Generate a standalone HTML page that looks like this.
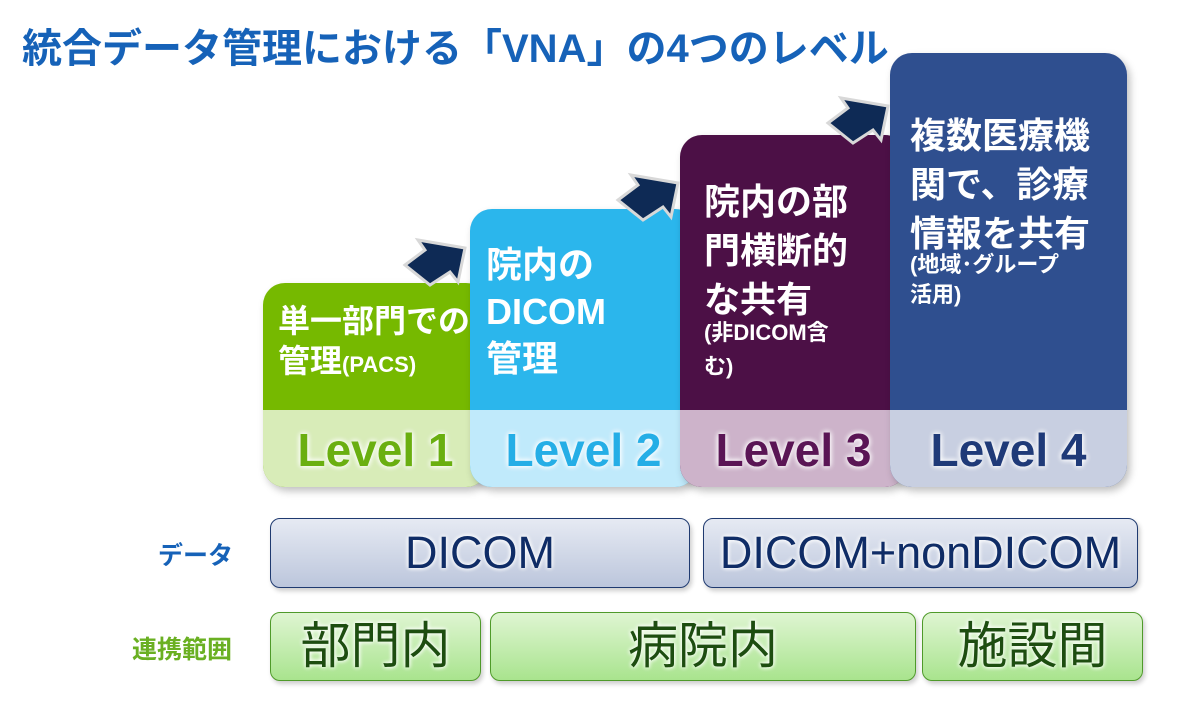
<!DOCTYPE html>
<html><head><meta charset="utf-8"><style>
body{margin:0;width:1200px;height:727px;background:#fff;position:relative;overflow:hidden;font-family:"Liberation Sans","Noto Sans CJK JP",sans-serif}
.a{position:absolute}
.box{position:absolute;border-radius:22px;overflow:hidden;box-shadow:3px 4px 8px rgba(0,0,0,.25)}
.box .t{position:absolute;left:16px;top:22px;color:#fff;font-weight:bold;font-size:36px;line-height:49px;white-space:nowrap}
.box .b{position:absolute;left:0;right:0;bottom:0;height:77px;text-align:center;font-weight:bold;font-size:46px;line-height:80px;text-shadow:0 0 6px #fff,0 0 6px #fff}
.s{font-size:22px;line-height:30px}
.r{position:absolute;border-radius:10px;text-align:center;box-shadow:2px 3px 5px rgba(0,0,0,.2)}
.d{border:1.5px solid #1f3a70;background:linear-gradient(#e6eaf3,#bcc6dc);color:#0f2c66;font-size:45px;line-height:68px;text-shadow:0 0 5px #fff,0 0 5px #fff}
.g{border:1.5px solid #4f9a2a;background:linear-gradient(#dff5d2,#a9e48e);color:#1d4d10;font-size:50px;line-height:66px;text-shadow:0 0 5px #fff,0 0 5px #fff}
</style></head><body>
<div class="a" style="left:22px;top:16px;font-size:40px;font-weight:bold;color:#1662b8;white-space:nowrap">統合データ管理における「VNA」の4つのレベル</div>

<div class="box" style="left:263px;top:283px;width:225px;height:204px;background:#76b900">
<div class="t" style="left:15px;top:18px;font-size:32px;line-height:40px">単一部門での<br>管理<span class="s">(PACS)</span></div>
<div class="b" style="background:#d8ecb8;color:#6aaf10">Level 1</div></div>

<div class="box" style="left:470px;top:209px;width:227px;height:278px;background:#2bb6ec">
<div class="t" style="top:32px;line-height:47px">院内の<br>DICOM<br>管理</div>
<div class="b" style="background:#c0eafb;color:#25aee6">Level 2</div></div>

<div class="box" style="left:680px;top:135px;width:227px;height:352px;background:#4c1046">
<div class="t" style="left:24px;top:42px">院内の部<br>門横断的<br>な共有<br><span class="s" style="display:block;line-height:34px;margin-top:-8px">(非DICOM含<br>む)</span></div>
<div class="b" style="background:#cdb3ca;color:#5a1555">Level 3</div></div>

<div class="box" style="left:890px;top:53px;width:237px;height:434px;background:#2f4f8f">
<div class="t" style="left:20px;top:58px">複数医療機<br>関で、診療<br>情報を共有<br><span class="s" style="display:block;line-height:30px;margin-top:-8px">(地域･グループ<br>活用)</span></div>
<div class="b" style="background:#c8cfe1;color:#1f3a78">Level 4</div></div>

<svg class="a" style="left:0;top:0" width="1200" height="727">
<g fill="#0e2a55" stroke="#d8d8d8" stroke-width="3">
<polygon points="405,265 425,250 418,240 465,248 458,282 450,272 430,285"/>
<polygon points="618,200 638,185 631,175 678,183 671,217 663,207 643,220"/>
<polygon points="828,123 848,108 841,98 888,106 881,140 873,130 853,143"/>
</g></svg>

<div class="a" style="left:158px;top:536px;font-size:25px;font-weight:bold;color:#1662b8">データ</div>
<div class="a" style="left:132px;top:630px;font-size:25px;font-weight:bold;color:#6ab022">連携範囲</div>

<div class="r d" style="left:270px;top:518px;width:418px;height:68px">DICOM</div>
<div class="r d" style="left:703px;top:518px;width:433px;height:68px">DICOM+nonDICOM</div>
<div class="r g" style="left:270px;top:612px;width:209px;height:67px">部門内</div>
<div class="r g" style="left:490px;top:612px;width:424px;height:67px">病院内</div>
<div class="r g" style="left:922px;top:612px;width:219px;height:67px">施設間</div>
</body></html>
